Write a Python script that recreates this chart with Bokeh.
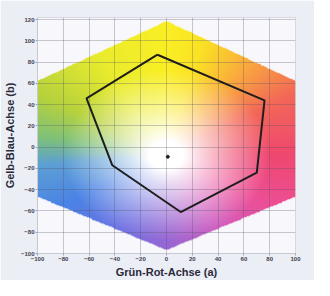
import numpy as np
from bokeh.plotting import figure
from bokeh.models import FixedTicker
from bokeh.embed import file_html
from bokeh.resources import INLINE

# ---- data ----
a_ticks = [-100, -80, -60, -40, -20, 0, 20, 40, 60, 80, 100]
b_ticks = [-100, -80, -60, -40, -20, 0, 20, 40, 60, 80, 100, 120]
gamut_a = [0, 100, 100, 0, -100, -100]
gamut_b = [118, 62, -47, -97, -47, 62]
sample_a = [-7, 76, 70, 11, -42, -62]
sample_b = [87, 44, -24, -61, -17, 46]
white_a = [1]
white_b = [-9]

# hue anchors for the background colour plane (angle in degrees, rgb)
hue_angles = [0, 30, 55, 75, 90, 120, 150, 170, 185, 210, 245, 270, 300, 330, 360]
hue_r = [238, 242, 250, 250, 250, 232, 180, 120, 85, 65, 105, 145, 205, 236, 238]
hue_g = [62, 95, 170, 225, 238, 235, 208, 190, 155, 125, 105, 95, 85, 70, 62]
hue_b = [105, 80, 50, 25, 25, 35, 50, 115, 210, 228, 225, 210, 190, 145, 105]

FONT = "Liberation Sans, Arial, sans-serif"

# ---- colour plane image ----
nx, ny = 400, 440
xs = np.linspace(-100, 100, nx)
ys = np.linspace(-100, 120, ny)
A, B = np.meshgrid(xs, ys)
cx, cy = 0.0, -8.0
theta = np.degrees(np.arctan2(B - cy, A - cx)) % 360
r = np.hypot(A - cx, B - cy)
s = 0.95 * np.clip((r - 14) / 66.0, 0, 1) ** 0.9
R = np.interp(theta, hue_angles, hue_r)
G = np.interp(theta, hue_angles, hue_g)
Bc = np.interp(theta, hue_angles, hue_b)
R = 255 * (1 - s) + R * s
G = 255 * (1 - s) + G * s
Bc = 255 * (1 - s) + Bc * s

inside = np.ones_like(A, dtype=bool)
n = len(gamut_a)
for i in range(n):
    x1, y1 = gamut_a[i], gamut_b[i]
    x2, y2 = gamut_a[(i + 1) % n], gamut_b[(i + 1) % n]
    cross = (x2 - x1) * (B - y1) - (y2 - y1) * (A - x1)
    inside &= cross <= 0

img = np.zeros((ny, nx), dtype=np.uint32)
view = img.view(dtype=np.uint8).reshape((ny, nx, 4))
view[:, :, 0] = R.astype(np.uint8)
view[:, :, 1] = G.astype(np.uint8)
view[:, :, 2] = Bc.astype(np.uint8)
view[:, :, 3] = np.where(inside, 255, 0).astype(np.uint8)

# ---- figure ----
p = figure(width=314, height=280, x_range=(-100, 100), y_range=(-100, 122),
           output_backend="svg", toolbar_location=None,
           min_border_left=37, min_border_right=19, min_border_top=17, min_border_bottom=25)
p.background_fill_color = "#f8f8fc"
p.border_fill_color = "#eceef6"
p.outline_line_color = "#d8d8e0"

p.image_rgba(image=[img], x=-100, y=-100, dw=200, dh=220, level="image")

p.line(sample_a + sample_a[:1], sample_b + sample_b[:1], line_color="#1e1e1e", line_width=2)
p.scatter(white_a, white_b, size=3, color="#222222")

p.xaxis.ticker = FixedTicker(ticks=a_ticks)
p.yaxis.ticker = FixedTicker(ticks=b_ticks)
for ax in (p.xaxis[0], p.yaxis[0]):
    ax.major_label_text_font = FONT
    ax.major_label_text_font_size = "6px"
    ax.major_label_text_font_style = "bold"
    ax.major_label_text_color = "#404050"
    ax.major_tick_out = 2
    ax.major_tick_in = 0
    ax.minor_tick_line_color = None
    ax.axis_line_color = "#c8c8d0"
    ax.major_tick_line_color = "#a0a0a8"
    ax.major_label_standoff = 1
    ax.axis_label_text_font = FONT
    ax.axis_label_text_font_size = "11px"
    ax.axis_label_text_font_style = "bold"
    ax.axis_label_text_color = "#2a2a3a"
    ax.axis_label_standoff = 2
p.xaxis.axis_label = "Grün-Rot-Achse (a)"
p.yaxis.axis_label = "Gelb-Blau-Achse (b)"

p.xgrid.ticker = FixedTicker(ticks=a_ticks)
p.ygrid.ticker = FixedTicker(ticks=b_ticks)
p.grid.grid_line_color = "#505060"
p.grid.grid_line_alpha = 0.3
p.grid.grid_line_width = 1

open("out.html", "w").write(file_html(p, INLINE))
